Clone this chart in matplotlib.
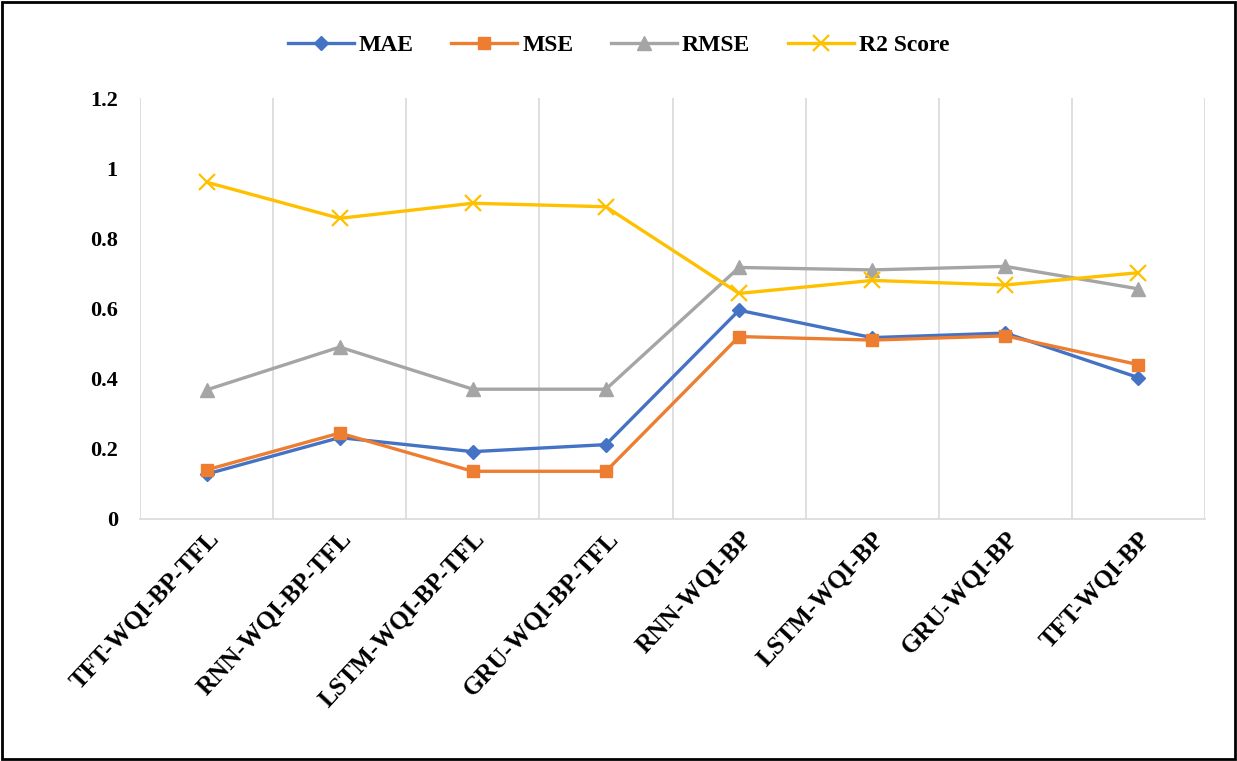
import numpy as np
import matplotlib.pyplot as plt
from matplotlib.patches import Rectangle

# 模型名稱與各項誤差指標
models = ['TFT-WQI-BP-TFL', 'RNN-WQI-BP-TFL', 'LSTM-WQI-BP-TFL', 'GRU-WQI-BP-TFL',
          'RNN-WQI-BP', 'LSTM-WQI-BP', 'GRU-WQI-BP', 'TFT-WQI-BP']
mae = [0.128, 0.232, 0.192, 0.212, 0.595, 0.517, 0.530, 0.403]
mse = [0.140, 0.245, 0.136, 0.136, 0.520, 0.510, 0.522, 0.440]
rmse = [0.368, 0.490, 0.370, 0.370, 0.717, 0.710, 0.720, 0.656]
r2 = [0.960, 0.857, 0.900, 0.890, 0.643, 0.680, 0.667, 0.702]

plt.rcParams['font.family'] = ['Liberation Serif', 'DejaVu Serif']
plt.rcParams['font.weight'] = 'bold'

fig = plt.figure(figsize=(12.37, 7.61), dpi=100)
ax = fig.add_axes([140 / 1237, 1 - 519 / 761, 1065 / 1237, 421 / 761])

x = np.arange(len(models))
ax.plot(x, mae, color='#4472C4', marker='D', markersize=7, lw=2.4, label='MAE')
ax.plot(x, mse, color='#ED7D31', marker='s', markersize=9, lw=2.4, label='MSE')
ax.plot(x, rmse, color='#A5A5A5', marker='^', markersize=10, lw=2.4, label='RMSE')
ax.plot(x, r2, color='#FFC000', marker='x', markersize=11, mew=1.6, lw=2.4, label='R2 Score')

# 類別邊界的垂直格線
ax.set_xlim(-0.5, len(models) - 0.5)
for b in np.arange(-0.5, len(models), 1.0):
    ax.axvline(b, color='#D9D9D9', lw=1.2, zorder=0)

ax.set_ylim(0, 1.2)
ax.set_yticks(np.arange(0, 1.21, 0.2))
ax.set_yticklabels(['0', '0.2', '0.4', '0.6', '0.8', '1', '1.2'])
ax.set_xticks(x)
ax.set_xticklabels(models, rotation=47, ha='right', va='top', rotation_mode='anchor')
ax.tick_params(axis='x', length=0, labelsize=18, pad=6)
ax.tick_params(axis='y', length=0, labelsize=16, pad=16)

for s in ['top', 'right', 'left']:
    ax.spines[s].set_visible(False)
ax.spines['bottom'].set_color('#D9D9D9')
ax.spines['bottom'].set_linewidth(1.2)

fig.legend(loc='center', bbox_to_anchor=(0.5, 1 - 45 / 761), ncol=4, frameon=False,
           fontsize=17, handlelength=2.8, columnspacing=1.6, handletextpad=0.2)

fig.patches.append(Rectangle((0.002, 0.003), 0.996, 0.994, transform=fig.transFigure,
                             fill=False, edgecolor='black', lw=2))

fig.savefig('out.png', dpi=100)
